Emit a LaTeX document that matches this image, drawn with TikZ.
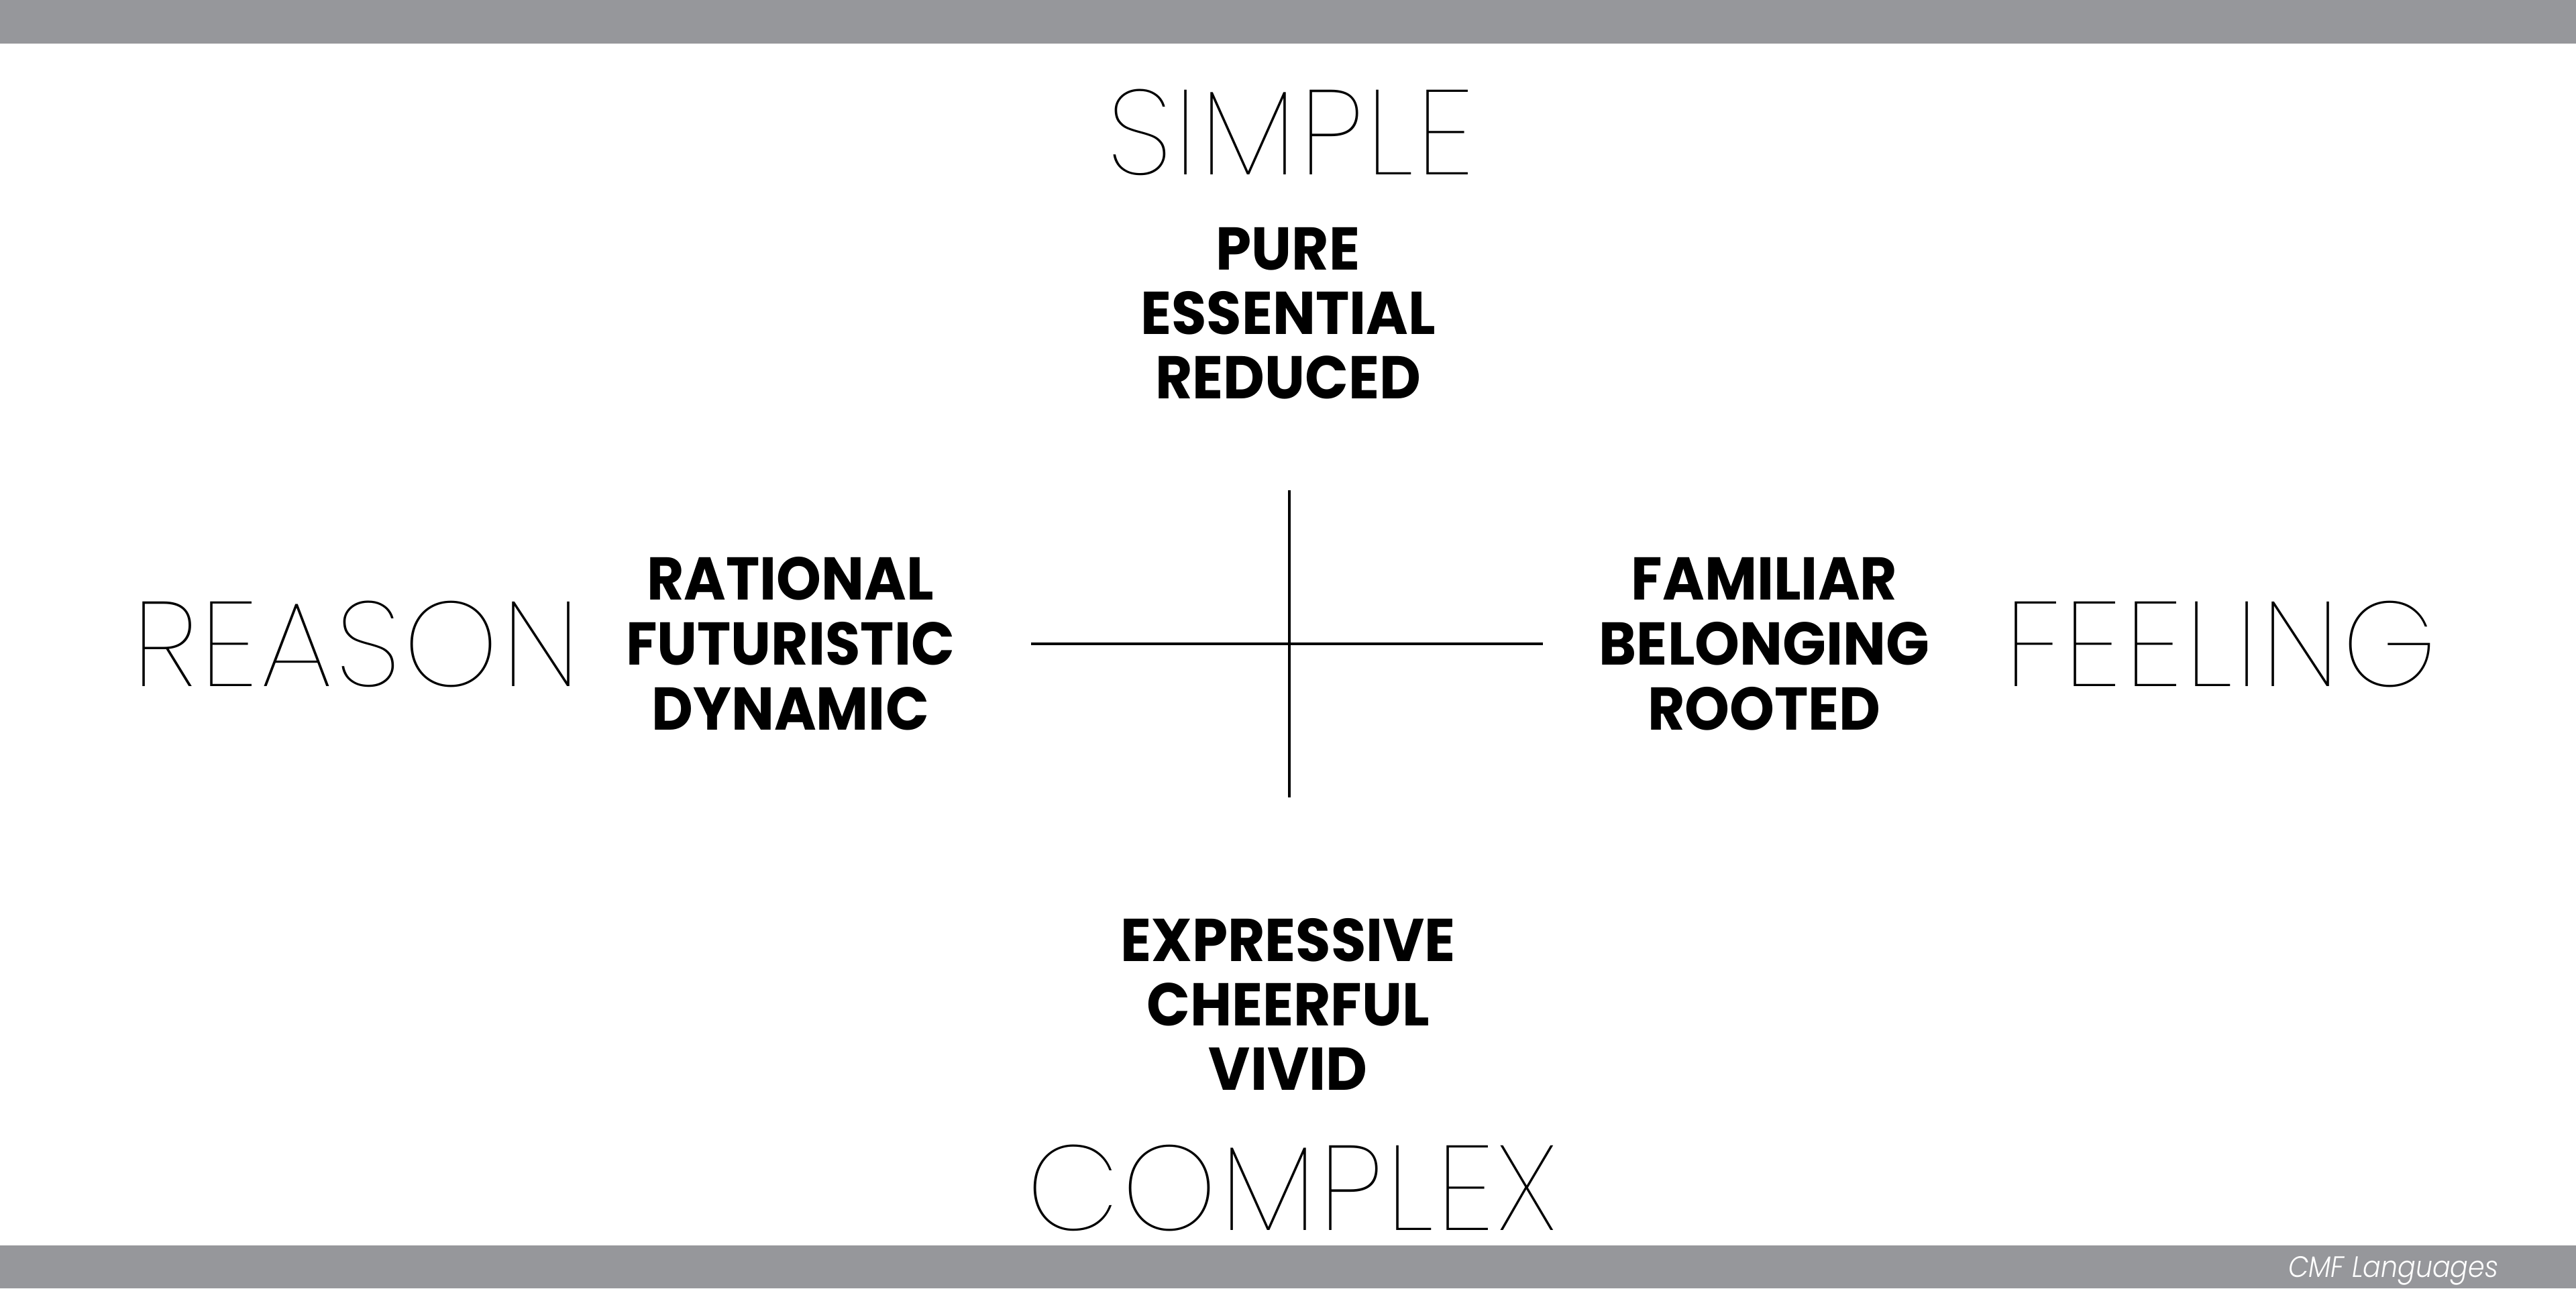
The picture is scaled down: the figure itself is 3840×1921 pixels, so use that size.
\documentclass[tikz,border=0pt]{standalone}
\usepackage{fontspec}
\setmainfont{Poppins}
\newfontfamily\thinf{Poppins Thin}[LetterSpace=2.5]
\newfontfamily\boldf{Poppins Bold}[FakeStretch=0.945]
\newfontfamily\notef{Poppins Light Italic}[FakeStretch=0.9]
\definecolor{barGray}{HTML}{96979B}
\begin{document}
\begin{tikzpicture}[x=0.01cm,y=-0.01cm,
  big/.style={font=\thinf\fontsize{51}{53}\selectfont, inner sep=0pt, anchor=base},
  kw/.style={font=\boldf\fontsize{25.6}{28}\selectfont, inner sep=0pt, anchor=base},
  axisline/.style={line width=1.1pt, draw=black},
  bar/.style={fill=barGray, draw=none}]
\useasboundingbox (0,0) rectangle (3840,1921);
\fill[white] (0,0) rectangle (3840,1921);
% bars
\path[bar] (0,0) rectangle (3840,65);
\path[bar] (0,1857) rectangle (3840,1921);
\node[font=\notef\fontsize{12.5}{14}\selectfont, text=white, inner sep=0pt, anchor=base east] (note) at (3725,1904) {CMF Languages};
% axes
\coordinate (axL) at (1537,960);
\coordinate (axR) at (2300,960);
\coordinate (axT) at (1922,731);
\coordinate (axB) at (1922,1189);
\draw[axisline] (axL) -- (axR);
\draw[axisline] (axT) -- (axB);
% pole labels
\node[big] (simple) at (1924,260) {SIMPLE};
\node[big] (complex) at (1926,1834) {COMPLEX};
\node[big] (reason) at (531,1023) {REASON};
\node[big] (feeling) at (3311,1023) {FEELING};
% keyword blocks
\node[kw] (pure) at (1920,402) {PURE};
\node[kw] (essential) at (1920,498) {ESSENTIAL};
\node[kw] (reduced) at (1920,594) {REDUCED};
\node[kw] (rational) at (1178,894) {RATIONAL};
\node[kw] (futuristic) at (1178,991) {FUTURISTIC};
\node[kw] (dynamic) at (1178,1088) {DYNAMIC};
\node[kw] (familiar) at (2630,894) {FAMILIAR};
\node[kw] (belonging) at (2630,991) {BELONGING};
\node[kw] (rooted) at (2630,1088) {ROOTED};
\node[kw] (expressive) at (1920,1433) {EXPRESSIVE};
\node[kw] (cheerful) at (1920,1529) {CHEERFUL};
\node[kw] (vivid) at (1920,1625) {VIVID};
\end{tikzpicture}
\end{document}
